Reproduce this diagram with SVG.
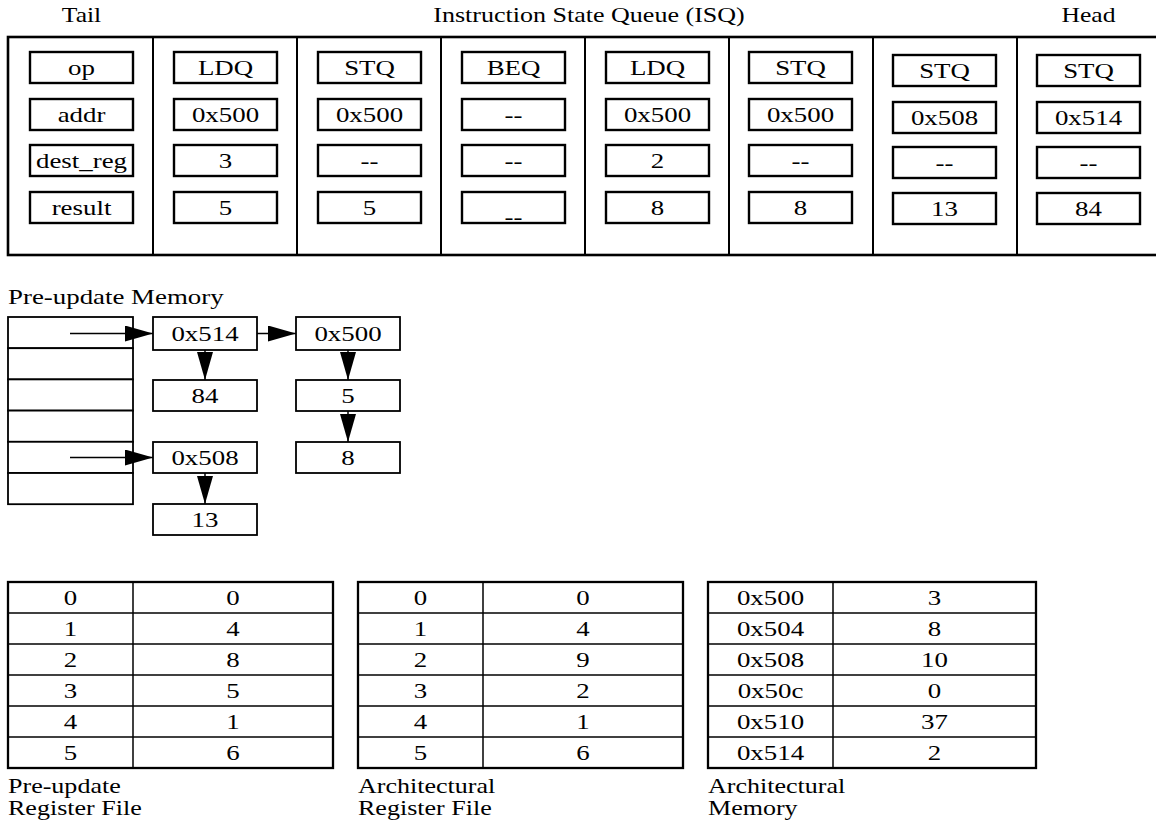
<svg xmlns="http://www.w3.org/2000/svg" width="1156" height="825" viewBox="0 0 1156 825">
<style>
text{font-family:"Liberation Serif","Times New Roman",serif;font-size:21px;fill:#000}
.c{text-anchor:middle}
.fb{fill:#fff;stroke:#000;stroke-width:2.4}
.ob{fill:none;stroke:#000;stroke-width:2.6}
.dv{stroke:#000;stroke-width:2}
.mt{fill:#fff;stroke:#000;stroke-width:1.8}
.tl{fill:none;stroke:#000;stroke-width:2.3}
.ti{stroke:#000;stroke-width:1.5}
.ar{stroke:#000;stroke-width:1.5;fill:none;marker-end:url(#ah)}
</style>
<defs>
<marker id="ah" markerWidth="28" markerHeight="16" refX="28" refY="8" orient="auto" markerUnits="userSpaceOnUse"><path d="M0,0 L28,8 L0,16 z" fill="#000"/></marker>
</defs>
<rect width="1156" height="825" fill="#fff"/>

<g id="labels">
<text class="c" transform="translate(81.5 22) scale(1.22 1)">Tail</text>
<text class="c" transform="translate(589 22) scale(1.24 1)">Instruction State Queue (ISQ)</text>
<text class="c" transform="translate(1088.5 22) scale(1.22 1)">Head</text>
</g>

<g id="isq">
<rect class="ob" x="8" y="37" width="1160" height="218"/>
<line class="dv" x1="153" y1="37" x2="153" y2="255"/>
<line class="dv" x1="297" y1="37" x2="297" y2="255"/>
<line class="dv" x1="441" y1="37" x2="441" y2="255"/>
<line class="dv" x1="585" y1="37" x2="585" y2="255"/>
<line class="dv" x1="729" y1="37" x2="729" y2="255"/>
<line class="dv" x1="873" y1="37" x2="873" y2="255"/>
<line class="dv" x1="1017" y1="37" x2="1017" y2="255"/>
</g>

<g id="isq-col0">
<rect class="fb" x="30" y="52" width="103" height="31"/><text class="c" transform="translate(81.5 75) scale(1.28 1)">op</text>
<rect class="fb" x="30" y="99" width="103" height="31"/><text class="c" transform="translate(81.5 122) scale(1.28 1)">addr</text>
<rect class="fb" x="30" y="145" width="103" height="31"/><text class="c" transform="translate(81.5 168) scale(1.28 1)">dest_reg</text>
<rect class="fb" x="30" y="192" width="103" height="31"/><text class="c" transform="translate(81.5 215) scale(1.28 1)">result</text>
</g>
<g id="isq-col1">
<rect class="fb" x="174" y="52" width="103" height="31"/><text class="c" transform="translate(225.5 75) scale(1.28 1)">LDQ</text>
<rect class="fb" x="174" y="99" width="103" height="31"/><text class="c" transform="translate(225.5 122) scale(1.28 1)">0x500</text>
<rect class="fb" x="174" y="145" width="103" height="31"/><text class="c" transform="translate(225.5 168) scale(1.28 1)">3</text>
<rect class="fb" x="174" y="192" width="103" height="31"/><text class="c" transform="translate(225.5 215) scale(1.28 1)">5</text>
</g>
<g id="isq-col2">
<rect class="fb" x="318" y="52" width="103" height="31"/><text class="c" transform="translate(369.5 75) scale(1.28 1)">STQ</text>
<rect class="fb" x="318" y="99" width="103" height="31"/><text class="c" transform="translate(369.5 122) scale(1.28 1)">0x500</text>
<rect class="fb" x="318" y="145" width="103" height="31"/><text class="c" transform="translate(369.5 168) scale(1.28 1)">--</text>
<rect class="fb" x="318" y="192" width="103" height="31"/><text class="c" transform="translate(369.5 215) scale(1.28 1)">5</text>
</g>
<g id="isq-col3">
<rect class="fb" x="462" y="52" width="103" height="31"/><text class="c" transform="translate(513.5 75) scale(1.28 1)">BEQ</text>
<rect class="fb" x="462" y="99" width="103" height="31"/><text class="c" transform="translate(513.5 122) scale(1.28 1)">--</text>
<rect class="fb" x="462" y="145" width="103" height="31"/><text class="c" transform="translate(513.5 168) scale(1.28 1)">--</text>
<rect class="fb" x="462" y="192" width="103" height="31"/><text class="c" transform="translate(513.5 224) scale(1.28 1)">--</text>
</g>
<g id="isq-col4">
<rect class="fb" x="606" y="52" width="103" height="31"/><text class="c" transform="translate(657.5 75) scale(1.28 1)">LDQ</text>
<rect class="fb" x="606" y="99" width="103" height="31"/><text class="c" transform="translate(657.5 122) scale(1.28 1)">0x500</text>
<rect class="fb" x="606" y="145" width="103" height="31"/><text class="c" transform="translate(657.5 168) scale(1.28 1)">2</text>
<rect class="fb" x="606" y="192" width="103" height="31"/><text class="c" transform="translate(657.5 215) scale(1.28 1)">8</text>
</g>
<g id="isq-col5">
<rect class="fb" x="749" y="52" width="103" height="31"/><text class="c" transform="translate(800.5 75) scale(1.28 1)">STQ</text>
<rect class="fb" x="749" y="99" width="103" height="31"/><text class="c" transform="translate(800.5 122) scale(1.28 1)">0x500</text>
<rect class="fb" x="749" y="145" width="103" height="31"/><text class="c" transform="translate(800.5 168) scale(1.28 1)">--</text>
<rect class="fb" x="749" y="192" width="103" height="31"/><text class="c" transform="translate(800.5 215) scale(1.28 1)">8</text>
</g>
<g id="isq-col6">
<rect class="fb" x="893" y="55" width="103" height="31"/><text class="c" transform="translate(944.5 78) scale(1.28 1)">STQ</text>
<rect class="fb" x="893" y="102" width="103" height="31"/><text class="c" transform="translate(944.5 125) scale(1.28 1)">0x508</text>
<rect class="fb" x="893" y="147" width="103" height="31"/><text class="c" transform="translate(944.5 170) scale(1.28 1)">--</text>
<rect class="fb" x="893" y="193" width="103" height="31"/><text class="c" transform="translate(944.5 216) scale(1.28 1)">13</text>
</g>
<g id="isq-col7">
<rect class="fb" x="1037" y="55" width="103" height="31"/><text class="c" transform="translate(1088.5 78) scale(1.28 1)">STQ</text>
<rect class="fb" x="1037" y="102" width="103" height="31"/><text class="c" transform="translate(1088.5 125) scale(1.28 1)">0x514</text>
<rect class="fb" x="1037" y="147" width="103" height="31"/><text class="c" transform="translate(1088.5 170) scale(1.28 1)">--</text>
<rect class="fb" x="1037" y="193" width="103" height="31"/><text class="c" transform="translate(1088.5 216) scale(1.28 1)">84</text>
</g>

<g id="preupdate-memory">
<text transform="translate(8 304) scale(1.28 1)">Pre-update Memory</text>
<rect class="mt" x="8" y="317" width="125" height="31.2"/>
<rect class="mt" x="8" y="348.2" width="125" height="31.2"/>
<rect class="mt" x="8" y="379.4" width="125" height="31.2"/>
<rect class="mt" x="8" y="410.6" width="125" height="31.2"/>
<rect class="mt" x="8" y="441.8" width="125" height="31.2"/>
<rect class="mt" x="8" y="473" width="125" height="31.2"/>
</g>
<g id="m-0x514"><rect class="mt" x="153" y="317" width="104" height="33"/><text class="c" transform="translate(205 341) scale(1.28 1)">0x514</text></g>
<g id="m-84"><rect class="mt" x="153" y="380" width="104" height="31"/><text class="c" transform="translate(205 403) scale(1.28 1)">84</text></g>
<g id="m-0x508"><rect class="mt" x="153" y="442" width="104" height="31"/><text class="c" transform="translate(205 465) scale(1.28 1)">0x508</text></g>
<g id="m-13"><rect class="mt" x="153" y="504" width="104" height="31"/><text class="c" transform="translate(205 527) scale(1.28 1)">13</text></g>
<g id="m-0x500"><rect class="mt" x="296" y="317" width="104" height="33"/><text class="c" transform="translate(348 341) scale(1.28 1)">0x500</text></g>
<g id="m-5"><rect class="mt" x="296" y="380" width="104" height="31"/><text class="c" transform="translate(348 403) scale(1.28 1)">5</text></g>
<g id="m-8"><rect class="mt" x="296" y="442" width="104" height="31"/><text class="c" transform="translate(348 465) scale(1.28 1)">8</text></g>

<g id="connectors">
<line class="ar" x1="70" y1="333.5" x2="153" y2="333.5"/>
<line class="ar" x1="70" y1="457.5" x2="153" y2="457.5"/>
<line class="ar" x1="257" y1="333.5" x2="296" y2="333.5"/>
<line class="ar" x1="205" y1="350" x2="205" y2="380"/>
<line class="ar" x1="348" y1="350" x2="348" y2="380"/>
<line class="ar" x1="348" y1="411" x2="348" y2="442"/>
<line class="ar" x1="205" y1="473" x2="205" y2="504"/>
</g>

<g id="preupdate-regfile">
<rect class="tl" x="8" y="582" width="325" height="186"/>
<line class="ti" x1="133" y1="582" x2="133" y2="768"/>
<line class="ti" x1="8" y1="613" x2="333" y2="613"/>
<line class="ti" x1="8" y1="644" x2="333" y2="644"/>
<line class="ti" x1="8" y1="675" x2="333" y2="675"/>
<line class="ti" x1="8" y1="706" x2="333" y2="706"/>
<line class="ti" x1="8" y1="737" x2="333" y2="737"/>
<text class="c" transform="translate(70.5 605) scale(1.28 1)">0</text><text class="c" transform="translate(233 605) scale(1.28 1)">0</text>
<text class="c" transform="translate(70.5 636) scale(1.28 1)">1</text><text class="c" transform="translate(233 636) scale(1.28 1)">4</text>
<text class="c" transform="translate(70.5 667) scale(1.28 1)">2</text><text class="c" transform="translate(233 667) scale(1.28 1)">8</text>
<text class="c" transform="translate(70.5 698) scale(1.28 1)">3</text><text class="c" transform="translate(233 698) scale(1.28 1)">5</text>
<text class="c" transform="translate(70.5 729) scale(1.28 1)">4</text><text class="c" transform="translate(233 729) scale(1.28 1)">1</text>
<text class="c" transform="translate(70.5 760) scale(1.28 1)">5</text><text class="c" transform="translate(233 760) scale(1.28 1)">6</text>
<text transform="translate(8 793) scale(1.24 1)">Pre-update</text>
<text transform="translate(8 815) scale(1.24 1)">Register File</text>
</g>

<g id="arch-regfile">
<rect class="tl" x="358" y="582" width="325" height="186"/>
<line class="ti" x1="483" y1="582" x2="483" y2="768"/>
<line class="ti" x1="358" y1="613" x2="683" y2="613"/>
<line class="ti" x1="358" y1="644" x2="683" y2="644"/>
<line class="ti" x1="358" y1="675" x2="683" y2="675"/>
<line class="ti" x1="358" y1="706" x2="683" y2="706"/>
<line class="ti" x1="358" y1="737" x2="683" y2="737"/>
<text class="c" transform="translate(420.5 605) scale(1.28 1)">0</text><text class="c" transform="translate(583 605) scale(1.28 1)">0</text>
<text class="c" transform="translate(420.5 636) scale(1.28 1)">1</text><text class="c" transform="translate(583 636) scale(1.28 1)">4</text>
<text class="c" transform="translate(420.5 667) scale(1.28 1)">2</text><text class="c" transform="translate(583 667) scale(1.28 1)">9</text>
<text class="c" transform="translate(420.5 698) scale(1.28 1)">3</text><text class="c" transform="translate(583 698) scale(1.28 1)">2</text>
<text class="c" transform="translate(420.5 729) scale(1.28 1)">4</text><text class="c" transform="translate(583 729) scale(1.28 1)">1</text>
<text class="c" transform="translate(420.5 760) scale(1.28 1)">5</text><text class="c" transform="translate(583 760) scale(1.28 1)">6</text>
<text transform="translate(358 793) scale(1.24 1)">Architectural</text>
<text transform="translate(358 815) scale(1.24 1)">Register File</text>
</g>

<g id="arch-memory">
<rect class="tl" x="708" y="582" width="328" height="186"/>
<line class="ti" x1="833" y1="582" x2="833" y2="768"/>
<line class="ti" x1="708" y1="613" x2="1036" y2="613"/>
<line class="ti" x1="708" y1="644" x2="1036" y2="644"/>
<line class="ti" x1="708" y1="675" x2="1036" y2="675"/>
<line class="ti" x1="708" y1="706" x2="1036" y2="706"/>
<line class="ti" x1="708" y1="737" x2="1036" y2="737"/>
<text class="c" transform="translate(770.5 605) scale(1.28 1)">0x500</text><text class="c" transform="translate(934.5 605) scale(1.28 1)">3</text>
<text class="c" transform="translate(770.5 636) scale(1.28 1)">0x504</text><text class="c" transform="translate(934.5 636) scale(1.28 1)">8</text>
<text class="c" transform="translate(770.5 667) scale(1.28 1)">0x508</text><text class="c" transform="translate(934.5 667) scale(1.28 1)">10</text>
<text class="c" transform="translate(770.5 698) scale(1.28 1)">0x50c</text><text class="c" transform="translate(934.5 698) scale(1.28 1)">0</text>
<text class="c" transform="translate(770.5 729) scale(1.28 1)">0x510</text><text class="c" transform="translate(934.5 729) scale(1.28 1)">37</text>
<text class="c" transform="translate(770.5 760) scale(1.28 1)">0x514</text><text class="c" transform="translate(934.5 760) scale(1.28 1)">2</text>
<text transform="translate(708 793) scale(1.24 1)">Architectural</text>
<text transform="translate(708 815) scale(1.24 1)">Memory</text>
</g>
</svg>
